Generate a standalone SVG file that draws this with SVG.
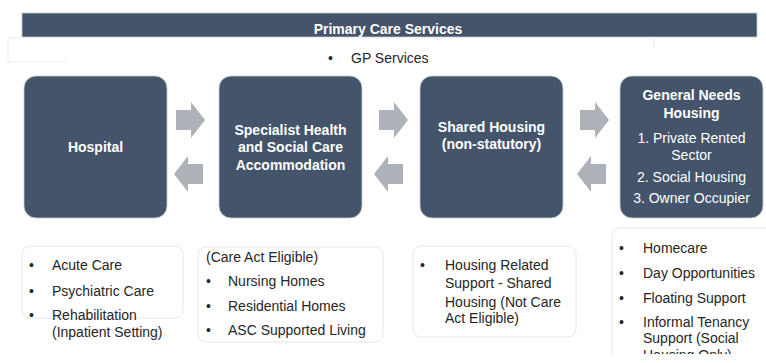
<svg xmlns="http://www.w3.org/2000/svg" xmlns:xlink="http://www.w3.org/1999/xlink" width="766" height="363" viewBox="0 0 766 363">
  <style>
    text { font-family: "Liberation Sans", Arial, sans-serif; font-size: 14px; }
    .node { fill: #44546a; stroke: #c9ced6; stroke-width: 0.8; }
    .hd { fill: #ffffff; font-weight: bold; text-anchor: middle; }
    .sub { fill: #ffffff; text-anchor: middle; }
    .card { fill: #ffffff; stroke: #e6e6e6; stroke-width: 1; }
    .txt { fill: #262626; }
    .arrow { fill: #adb1b8; }
  </style>
  <defs>
    <path id="arrR" d="M0,-10 H15 V-18 L29,0 L15,18 V10 H0 Z"/>
    <path id="arrL" d="M29,-10 H14 V-18 L0,0 L14,18 V10 H29 Z"/>
    <clipPath id="cutBottom">
      <rect x="600" y="220" width="166" height="134"/>
    </clipPath>
  </defs>

  <!-- primary care banner -->
  <g id="primary-care">
    <rect x="22" y="13" width="735" height="24" fill="#44546a" stroke="#c9ced6" stroke-width="0.8"/>
    <text class="hd" x="388" y="34">Primary Care Services</text>
    <path d="M654,38 V48 M8,38 V62 H67 M8,38 H22" fill="none" stroke="#ececec" stroke-width="1"/>
    <text class="txt" x="328" y="63">•</text>
    <text class="txt" x="351" y="63">GP Services</text>
  </g>

  <!-- main nodes -->
  <g id="hospital">
    <rect class="node" x="24" y="76" width="143" height="142" rx="12"/>
    <text class="hd" x="95.5" y="152">Hospital</text>
  </g>
  <g id="specialist">
    <rect class="node" x="219" y="76" width="143" height="142" rx="12"/>
    <text class="hd" x="290.5" y="135">Specialist Health</text>
    <text class="hd" x="290.5" y="152">and Social Care</text>
    <text class="hd" x="290.5" y="170">Accommodation</text>
  </g>
  <g id="shared-housing">
    <rect class="node" x="420" y="76" width="143" height="142" rx="12"/>
    <text class="hd" x="491.5" y="132">Shared Housing</text>
    <text class="hd" x="491.5" y="149">(non-statutory)</text>
  </g>
  <g id="general-needs">
    <rect class="node" x="620" y="76" width="143" height="142" rx="12"/>
    <text class="hd" x="691.5" y="100">General Needs</text>
    <text class="hd" x="691.5" y="118">Housing</text>
    <text class="sub" x="691.5" y="143">1. Private Rented</text>
    <text class="sub" x="691.5" y="160">Sector</text>
    <text class="sub" x="691.5" y="182">2. Social Housing</text>
    <text class="sub" x="691.5" y="203">3. Owner Occupier</text>
  </g>

  <!-- two-way flow arrows between nodes -->
  <g id="connectors" class="arrow">
    <use xlink:href="#arrR" x="176" y="120"/>
    <use xlink:href="#arrL" x="174" y="174"/>
    <use xlink:href="#arrR" x="379" y="120"/>
    <use xlink:href="#arrL" x="374" y="174"/>
    <use xlink:href="#arrR" x="580" y="120"/>
    <use xlink:href="#arrL" x="577" y="174"/>
  </g>

  <!-- service lists -->
  <g id="hospital-services">
    <rect class="card" x="22" y="246" width="161" height="72" rx="8"/>
    <text class="txt" x="29" y="270">•</text>
    <text class="txt" x="52" y="270">Acute Care</text>
    <text class="txt" x="29" y="296">•</text>
    <text class="txt" x="52" y="296">Psychiatric Care</text>
    <text class="txt" x="29" y="320">•</text>
    <text class="txt" x="52" y="320">Rehabilitation</text>
    <text class="txt" x="52" y="337">(Inpatient Setting)</text>
  </g>
  <g id="specialist-services">
    <rect class="card" x="198" y="247" width="185" height="95" rx="8"/>
    <text class="txt" x="206" y="262">(Care Act Eligible)</text>
    <text class="txt" x="206" y="286">•</text>
    <text class="txt" x="228" y="286">Nursing Homes</text>
    <text class="txt" x="206" y="311">•</text>
    <text class="txt" x="228" y="311">Residential Homes</text>
    <text class="txt" x="206" y="335">•</text>
    <text class="txt" x="228" y="335">ASC Supported Living</text>
  </g>
  <g id="shared-services">
    <rect class="card" x="413" y="246" width="163" height="91" rx="8"/>
    <text class="txt" x="420" y="270">•</text>
    <text class="txt" x="445" y="270">Housing Related</text>
    <text class="txt" x="445" y="288">Support - Shared</text>
    <text class="txt" x="445" y="307">Housing (Not Care</text>
    <text class="txt" x="445" y="323">Act Eligible)</text>
  </g>
  <g id="general-services" clip-path="url(#cutBottom)">
    <rect class="card" x="612" y="228" width="170" height="140" rx="8"/>
    <text class="txt" x="619" y="253">•</text>
    <text class="txt" x="643" y="253">Homecare</text>
    <text class="txt" x="619" y="278">•</text>
    <text class="txt" x="643" y="278">Day Opportunities</text>
    <text class="txt" x="619" y="303">•</text>
    <text class="txt" x="643" y="303">Floating Support</text>
    <text class="txt" x="619" y="327">•</text>
    <text class="txt" x="643" y="327">Informal Tenancy</text>
    <text class="txt" x="643" y="343">Support (Social</text>
    <text class="txt" x="643" y="360">Housing Only)</text>
  </g>
</svg>
